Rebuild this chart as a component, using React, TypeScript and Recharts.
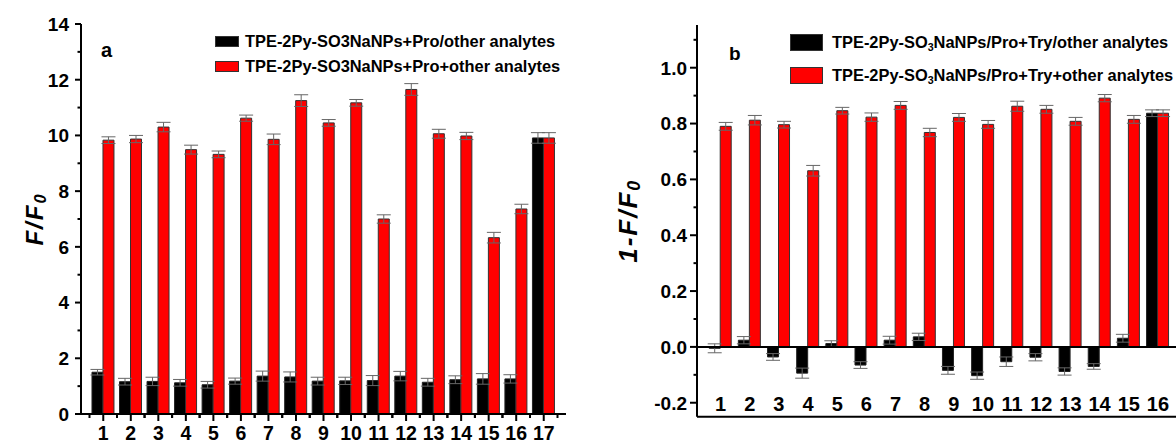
import React from "react";
import { BarChart, Bar, XAxis, YAxis, ErrorBar, ReferenceLine, Legend } from "recharts";

const FONT = "Arial, 'Liberation Sans', Helvetica, sans-serif";

// ---- panel a: F/F0 ----
const catsA = ["1", "2", "3", "4", "5", "6", "7", "8", "9", "10", "11", "12", "13", "14", "15", "16", "17"];
const proOtherA = [1.5, 1.16, 1.17, 1.12, 1.05, 1.18, 1.36, 1.33, 1.18, 1.19, 1.2, 1.36, 1.14, 1.23, 1.26, 1.26, 9.91];
const proOtherErrA = [0.1, 0.12, 0.15, 0.12, 0.12, 0.11, 0.18, 0.18, 0.14, 0.13, 0.18, 0.17, 0.14, 0.14, 0.19, 0.15, 0.19];
const proMixA = [9.83, 9.87, 10.3, 9.49, 9.32, 10.62, 9.86, 11.25, 10.45, 11.17, 7.0, 11.65, 10.06, 9.98, 6.33, 7.36, 9.91];
const proMixErrA = [0.12, 0.13, 0.17, 0.16, 0.12, 0.11, 0.19, 0.21, 0.12, 0.12, 0.15, 0.21, 0.16, 0.13, 0.19, 0.17, 0.19];
const yTicksA = [0, 1, 2, 3, 4, 5, 6, 7, 8, 9, 10, 11, 12, 13, 14];
const namesA = ["TPE-2Py-SO3NaNPs+Pro/other analytes", "TPE-2Py-SO3NaNPs+Pro+other analytes"];

// ---- panel b: 1-F/F0 ----
const catsB = ["1", "2", "3", "4", "5", "6", "7", "8", "9", "10", "11", "12", "13", "14", "15", "16"];
const tryOtherB = [-0.005, 0.024, -0.036, -0.094, 0.012, -0.065, 0.024, 0.036, -0.084, -0.103, -0.053, -0.037, -0.088, -0.07, 0.031, 0.837];
const tryOtherErrB = [0.016, 0.013, 0.012, 0.018, 0.01, 0.012, 0.014, 0.013, 0.014, 0.013, 0.017, 0.013, 0.013, 0.01, 0.014, 0.012];
const tryMixB = [0.79, 0.812, 0.796, 0.631, 0.846, 0.823, 0.865, 0.768, 0.822, 0.797, 0.862, 0.851, 0.808, 0.891, 0.815, 0.837];
const tryMixErrB = [0.014, 0.017, 0.012, 0.019, 0.012, 0.015, 0.014, 0.015, 0.014, 0.014, 0.018, 0.014, 0.014, 0.013, 0.014, 0.012];
const yTicksB = [-0.2, -0.1, 0, 0.1, 0.2, 0.3, 0.4, 0.5, 0.6, 0.7, 0.8, 0.9, 1.0, 1.1];
const namesB = ["TPE-2Py-SO3NaNPs/Pro+Try/other analytes", "TPE-2Py-SO3NaNPs/Pro+Try+other analytes"];

const rowsA = catsA.map((cat, i) => ({
  cat,
  black: proOtherA[i],
  blackErr: proOtherErrA[i],
  red: proMixA[i],
  redErr: proMixErrA[i],
}));

const rowsB = catsB.map((cat, i) => ({
  cat,
  black: tryOtherB[i],
  blackErr: tryOtherErrB[i],
  red: tryMixB[i],
  redErr: tryMixErrB[i],
}));

const textStyle = { fontFamily: FONT, fontWeight: 700, fill: "#000" } as const;

// left axis tick: long tick + label on majors, short tick on minors
function makeYTick(isMajor: (v: number) => boolean, fmt: (v: number) => string, labelGap: number, majorLen: number) {
  return (props: any) => {
    const { x, y, payload } = props;
    const major = isMajor(payload.value);
    return (
      <g>
        <line x1={x - (major ? majorLen : 3.5)} x2={x} y1={y} y2={y} stroke="#000" strokeWidth={2} />
        {major && (
          <text x={x - labelGap} y={y} dy="0.36em" textAnchor="end" fontSize={19} {...textStyle}>
            {fmt(payload.value)}
          </text>
        )}
      </g>
    );
  };
}

const YTickA = makeYTick((v) => v % 2 === 0, (v) => String(v), 12, 6);
const YTickB = makeYTick(
  (v) => Math.round(v * 10) % 2 === 0,
  (v) => v.toFixed(1),
  10,
  7
);

// bottom ticks for panel a: major at category, minor at band edges
function XTickA(props: any) {
  const { x, y, payload } = props;
  const half = payload.offset > 0 ? payload.offset : 13.75;
  return (
    <g>
      <line x1={x} x2={x} y1={y} y2={y + 7} stroke="#000" strokeWidth={2} />
      <line x1={x - half} x2={x - half} y1={y} y2={y + 4} stroke="#000" strokeWidth={2} />
      <line x1={x + half} x2={x + half} y1={y} y2={y + 4} stroke="#000" strokeWidth={2} />
      <text x={x} y={y + 26} textAnchor="middle" fontSize={19.5} {...textStyle}>
        {payload.value}
      </text>
    </g>
  );
}

// panel b prints its category numbers inside the frame, above the bottom line
function XTickB(props: any) {
  const { x, y, payload } = props;
  return (
    <text x={x} y={y - 6} textAnchor="middle" fontSize={20} {...textStyle}>
      {payload.value}
    </text>
  );
}

function withSub(name: string, sub: boolean) {
  if (!sub) return name;
  const [pre, post] = name.split("SO3");
  return (
    <>
      {pre}SO<sub style={{ fontSize: "65%", verticalAlign: "-0.3em", lineHeight: 0 }}>3</sub>
      {post}
    </>
  );
}

// legend keeps the series order given in the names list
function makeLegend(order: string[], boxW: number, boxH: number, pitch: number, gap: number, sub: boolean) {
  return (props: any) => {
    const payload = [...(props.payload || [])].sort(
      (p: any, q: any) => order.indexOf(p.value) - order.indexOf(q.value)
    );
    return (
      <div style={{ fontFamily: FONT, fontWeight: 700, fontSize: 16.4, color: "#000" }}>
        {payload.map((p: any) => (
          <div key={p.value} style={{ display: "flex", alignItems: "center", height: pitch, whiteSpace: "nowrap" }}>
            <span
              style={{
                display: "inline-block",
                width: boxW,
                height: boxH,
                background: p.color,
                border: "1px solid #333",
                boxSizing: "border-box",
                marginRight: gap,
              }}
            />
            <span style={{ lineHeight: 1 }}>{withSub(p.value, sub)}</span>
          </div>
        ))}
      </div>
    );
  };
}

function axisTitle(main: string, dx: number, fontSize: number, spacing: number) {
  return (props: any) => {
    const { viewBox } = props;
    const cx = viewBox.x + dx;
    const cy = viewBox.y + viewBox.height / 2;
    return (
      <text
        x={cx}
        y={cy}
        transform={`rotate(-90 ${cx} ${cy})`}
        textAnchor="middle"
        dominantBaseline="central"
        fontSize={fontSize}
        fontStyle="italic"
        letterSpacing={spacing}
        {...textStyle}
      >
        {main}
        <tspan dy={6} fontSize={fontSize * 0.68}>
          0
        </tspan>
      </text>
    );
  };
}

function PanelA() {
  return (
    <BarChart
      width={590}
      height={444}
      data={rowsA}
      margin={{ top: 24, right: 24, bottom: 0, left: 0 }}
      barCategoryGap="9%"
      barGap={0}
    >
      <XAxis
        dataKey="cat"
        height={30}
        interval={0}
        padding={{ left: 8.5, right: 8.5 }}
        axisLine={{ stroke: "#000", strokeWidth: 2 }}
        tickLine={false}
        tickSize={0}
        tickMargin={0}
        tick={XTickA}
      />
      <XAxis xAxisId="top" dataKey="cat" orientation="top" height={0} tick={false} tickLine={false} axisLine={{ stroke: "#000", strokeWidth: 2 }} />
      <YAxis
        width={81}
        domain={[0, 14]}
        ticks={yTicksA}
        interval={0}
        axisLine={{ stroke: "#000", strokeWidth: 2 }}
        tickLine={false}
        tickSize={0}
        tickMargin={0}
        tick={YTickA}
        label={{ content: axisTitle("F/F", 34, 24, 2) }}
      />
      <YAxis yAxisId="right" orientation="right" width={0} tick={false} tickLine={false} axisLine={{ stroke: "#000", strokeWidth: 2 }} />
      <Legend
        layout="horizontal"
        verticalAlign="middle"
        align="center"
        wrapperStyle={{ left: 215, top: 29, width: "auto", height: "auto" }}
        content={makeLegend(namesA, 24, 11, 25, 6, false)}
      />
      <Bar dataKey="black" name={namesA[0]} fill="#000" stroke="#222" strokeWidth={1} isAnimationActive={false}>
        <ErrorBar dataKey="blackErr" width={7} stroke="#666" strokeWidth={1} direction="y" isAnimationActive={false} />
      </Bar>
      <Bar dataKey="red" name={namesA[1]} fill="#ff0000" stroke="#333" strokeWidth={1} isAnimationActive={false}>
        <ErrorBar dataKey="redErr" width={7} stroke="#666" strokeWidth={1} direction="y" isAnimationActive={false} />
      </Bar>
    </BarChart>
  );
}

function PanelB() {
  return (
    <BarChart
      width={620}
      height={444}
      data={rowsB}
      margin={{ top: 25, right: 28.5, bottom: 0, left: 0 }}
      barCategoryGap="11%"
      barGap={0}
    >
      <XAxis
        dataKey="cat"
        height={27.3}
        interval={0}
        padding={{ left: 9, right: 9 }}
        axisLine={{ stroke: "#000", strokeWidth: 2 }}
        tickLine={false}
        tickSize={0}
        tickMargin={0}
        tick={XTickB}
      />
      <XAxis xAxisId="top" dataKey="cat" orientation="top" height={0} tick={false} tickLine={false} axisLine={{ stroke: "#000", strokeWidth: 2 }} />
      <YAxis
        width={107}
        domain={[-0.25, 1.153]}
        ticks={yTicksB}
        interval={0}
        axisLine={{ stroke: "#000", strokeWidth: 2 }}
        tickLine={false}
        tickSize={0}
        tickMargin={0}
        tick={YTickB}
        label={{ content: axisTitle("1-F/F", 38, 26, 2) }}
      />
      <YAxis yAxisId="right" orientation="right" width={0} tick={false} tickLine={false} axisLine={{ stroke: "#000", strokeWidth: 2 }} />
      <Legend
        layout="horizontal"
        verticalAlign="middle"
        align="center"
        wrapperStyle={{ left: 200, top: 26, width: "auto", height: "auto" }}
        content={makeLegend(namesB, 33, 17, 33, 9, true)}
      />
      <Bar dataKey="black" name={namesB[0]} fill="#000" stroke="#222" strokeWidth={1} isAnimationActive={false}>
        <ErrorBar dataKey="blackErr" width={7} stroke="#666" strokeWidth={1} direction="y" isAnimationActive={false} />
      </Bar>
      <Bar dataKey="red" name={namesB[1]} fill="#ff0000" stroke="#333" strokeWidth={1} isAnimationActive={false}>
        <ErrorBar dataKey="redErr" width={7} stroke="#666" strokeWidth={1} direction="y" isAnimationActive={false} />
      </Bar>
      <ReferenceLine y={0} stroke="#000" strokeWidth={2} />
    </BarChart>
  );
}

const tagStyle = {
  position: "absolute" as const,
  fontFamily: FONT,
  fontWeight: 700,
  lineHeight: 1,
  color: "#000",
};

export default function App() {
  return (
    <div style={{ position: "fixed", left: 0, top: 0, width: 1176, height: 444, overflow: "hidden", background: "#fff" }}>
      <div style={{ position: "absolute", left: 0, top: 0 }}>
        <PanelA />
      </div>
      <div style={{ position: "absolute", left: 590, top: 0 }}>
        <PanelB />
      </div>
      <div style={{ ...tagStyle, left: 101, top: 40, fontSize: 20 }}>a</div>
      <div style={{ ...tagStyle, left: 729, top: 44, fontSize: 19 }}>b</div>
    </div>
  );
}
